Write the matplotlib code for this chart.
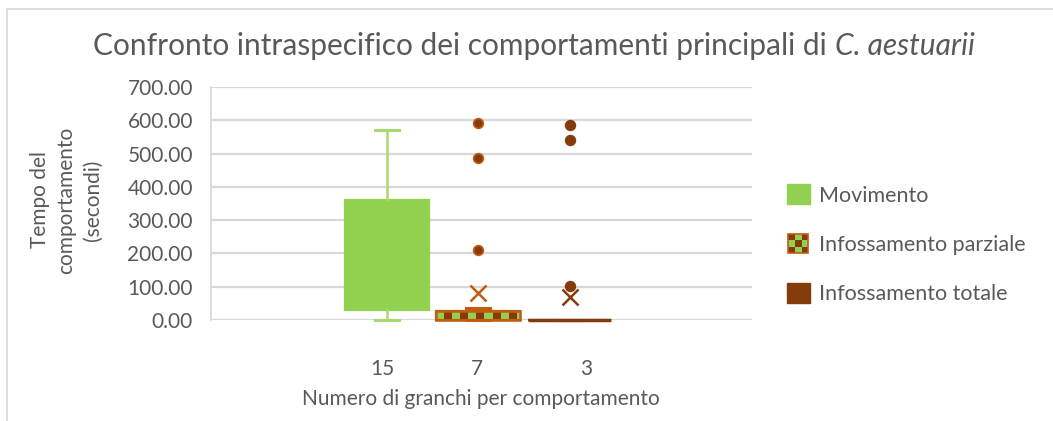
import numpy as np
import matplotlib
matplotlib.use("Agg")
import matplotlib.pyplot as plt
from matplotlib.patches import Patch, Rectangle
from matplotlib.lines import Line2D
from matplotlib.legend_handler import HandlerBase

plt.rcParams['font.family'] = ['Lato', 'DejaVu Sans']

# ---- data -----------------------------------------------------------------
series = ["Movimento", "Infossamento parziale", "Infossamento totale"]
category_labels = ["15", "7", "3"]
q1 = [30, 0, 0]
q3 = [360, 27, 0]
medians = [150, 0, 0]
whisker_low = [0, 0, 0]
whisker_high = [572, 37, 0]
means = [200, 81, 70]
outliers = [[], [593, 488, 210], [586, 541, 103]]
y_ticks = [0, 100, 200, 300, 400, 500, 600, 700]

GREEN = "#92D050"
LIGHT_GREEN = "#A9D96F"
BROWN = "#843C0C"
ORANGE = "#C55A11"
TEXT = "#595959"
GRID = "#D9D9D9"

fig = plt.figure(figsize=(10.53, 4.21), dpi=100)
ax = fig.add_axes([0.2004, 0.2399, 0.5137, 0.5534])

positions = [1, 2, 3]
box_width = 0.92
stats = []
for i in range(3):
    stats.append(dict(q1=q1[i], q3=q3[i], med=medians[i], whislo=whisker_low[i],
                      whishi=whisker_high[i], mean=means[i], fliers=outliers[i]))

face_cols = [GREEN, GREEN, BROWN]
edge_cols = [GREEN, ORANGE, BROWN]
line_cols = [LIGHT_GREEN, ORANGE, BROWN]
flier_face = [GREEN, BROWN, BROWN]
flier_edge = [GREEN, ORANGE, BROWN]

box_patches = []
for i in range(3):
    b = ax.bxp([stats[i]], positions=[positions[i]], widths=box_width,
               patch_artist=True, showmeans=True, showfliers=True,
               boxprops=dict(facecolor=face_cols[i], edgecolor=edge_cols[i],
                             linewidth=1.6 if i < 2 else 2.5),
               whiskerprops=dict(color=line_cols[i], linewidth=1.8),
               capprops=dict(color=line_cols[i], linewidth=2.2),
               capwidths=0.26,
               medianprops=dict(color=edge_cols[i], linewidth=1.5),
               meanprops=dict(marker="x", markersize=11, markeredgewidth=1.8,
                              markeredgecolor=edge_cols[i]),
               flierprops=dict(marker="o", markersize=7, markerfacecolor=flier_face[i],
                               markeredgecolor=flier_edge[i], markeredgewidth=1.2))
    box_patches.append(b["boxes"][0])
    for art in b["means"] + b["caps"] + b["whiskers"] + b["boxes"] + b["medians"]:
        art.set_zorder(4)
        art.set_clip_on(False)
    for art in b["fliers"]:
        art.set_zorder(5)
box_patches[1].set_zorder(2)

ax.set_xlim(-0.93, 5.0)
ax.set_ylim(0, 700)

# checkerboard row filling the partial-burial box
p = box_patches[1]
cell_w = 0.088
nx = int(np.ceil(box_width / cell_w)) + 1
checker = (np.arange(nx) % 2)[None, :]
cmap = matplotlib.colors.ListedColormap([GREEN, BROWN])
x0 = positions[1] - box_width / 2
im = ax.imshow(checker, cmap=cmap, extent=(x0, x0 + nx * cell_w, q1[1], q3[1]),
               aspect="auto", interpolation="nearest", zorder=2.5, origin="lower")
im.set_clip_path(p)
ax.set_xlim(-0.93, 5.0)
ax.set_ylim(0, 700)
outline = Rectangle((x0, q1[1]), box_width, q3[1] - q1[1], fill=False,
                    edgecolor=ORANGE, linewidth=1.8, zorder=3, clip_on=False)
ax.add_patch(outline)

# axes styling
ax.set_yticks(y_ticks)
ax.set_yticklabels([f"{v:.2f}" for v in y_ticks], fontsize=15, color=TEXT)
ax.yaxis.grid(True, color=GRID, linewidth=1.6)
ax.set_axisbelow(True)
ax.tick_params(axis="y", length=0, pad=13)
ax.set_xticks([0.95, 1.99, 3.18])
ax.set_xticklabels(category_labels, fontsize=15, color=TEXT)
ax.tick_params(axis="x", length=0, pad=28)
for s in ["top", "right", "bottom"]:
    ax.spines[s].set_visible(False)
ax.spines["left"].set_color(GRID)
ax.spines["left"].set_linewidth(1.2)

fig.text(0.063, 0.525, "Tempo del\ncomportamento\n(secondi)", rotation=90,
         ha="center", va="center", fontsize=15, color=TEXT, linespacing=1.4)
fig.text(0.457, 1 - 399 / 421, "Numero di granchi per comportamento", ha="center",
         va="center", fontsize=15, color=TEXT)

# title: regular part followed by the italic species name
renderer = fig.canvas.get_renderer()
title_size = 21.5
t1 = fig.text(93 / 1053, 1 - 46 / 421,
              "Confronto intraspecifico dei comportamenti principali di",
              ha="left", va="center", fontsize=title_size, color=TEXT)
bb = t1.get_window_extent(renderer)
space_px = 0.26 * title_size * 100 / 72
fig.text((bb.x1 + space_px) / fig.bbox.width, 1 - 46 / 421, "C. aestuarii",
         ha="left", va="center", fontsize=title_size, color=TEXT, style="italic")


class CheckerHandler(HandlerBase):
    def create_artists(self, legend, orig_handle, xdescent, ydescent, width, height,
                       fontsize, trans):
        s = height
        x = -xdescent + (width - s) / 2
        y = -ydescent
        n = 3
        c = s / n
        arts = []
        for i in range(n):
            for j in range(n):
                col = GREEN if (i + j) % 2 else BROWN
                arts.append(Rectangle((x + i * c, y + j * c), c, c, facecolor=col,
                                      edgecolor="none", transform=trans))
        arts.append(Rectangle((x, y), s, s, fill=False, edgecolor=ORANGE,
                              linewidth=1.2, transform=trans))
        return arts


handles = [Patch(facecolor=GREEN, edgecolor=GREEN), "checker",
           Patch(facecolor=BROWN, edgecolor=BROWN)]
leg = fig.legend(handles, series, loc="center left", bbox_to_anchor=(0.729, 0.42),
                 frameon=False, fontsize=15.5, labelcolor=TEXT,
                 handlelength=1.05, handleheight=1.05, handletextpad=0.45,
                 labelspacing=1.3, handler_map={str: CheckerHandler()})

# outer chart frame (left and top edges)
fig.add_artist(Line2D([0.0062, 0.0062], [0.0, 1 - 9 / 421], color=GRID, linewidth=1.2,
                      transform=fig.transFigure))
fig.add_artist(Line2D([0.0062, 1.0], [1 - 9 / 421, 1 - 9 / 421], color=GRID, linewidth=1.2,
                      transform=fig.transFigure))

fig.savefig("out.png", dpi=100)
